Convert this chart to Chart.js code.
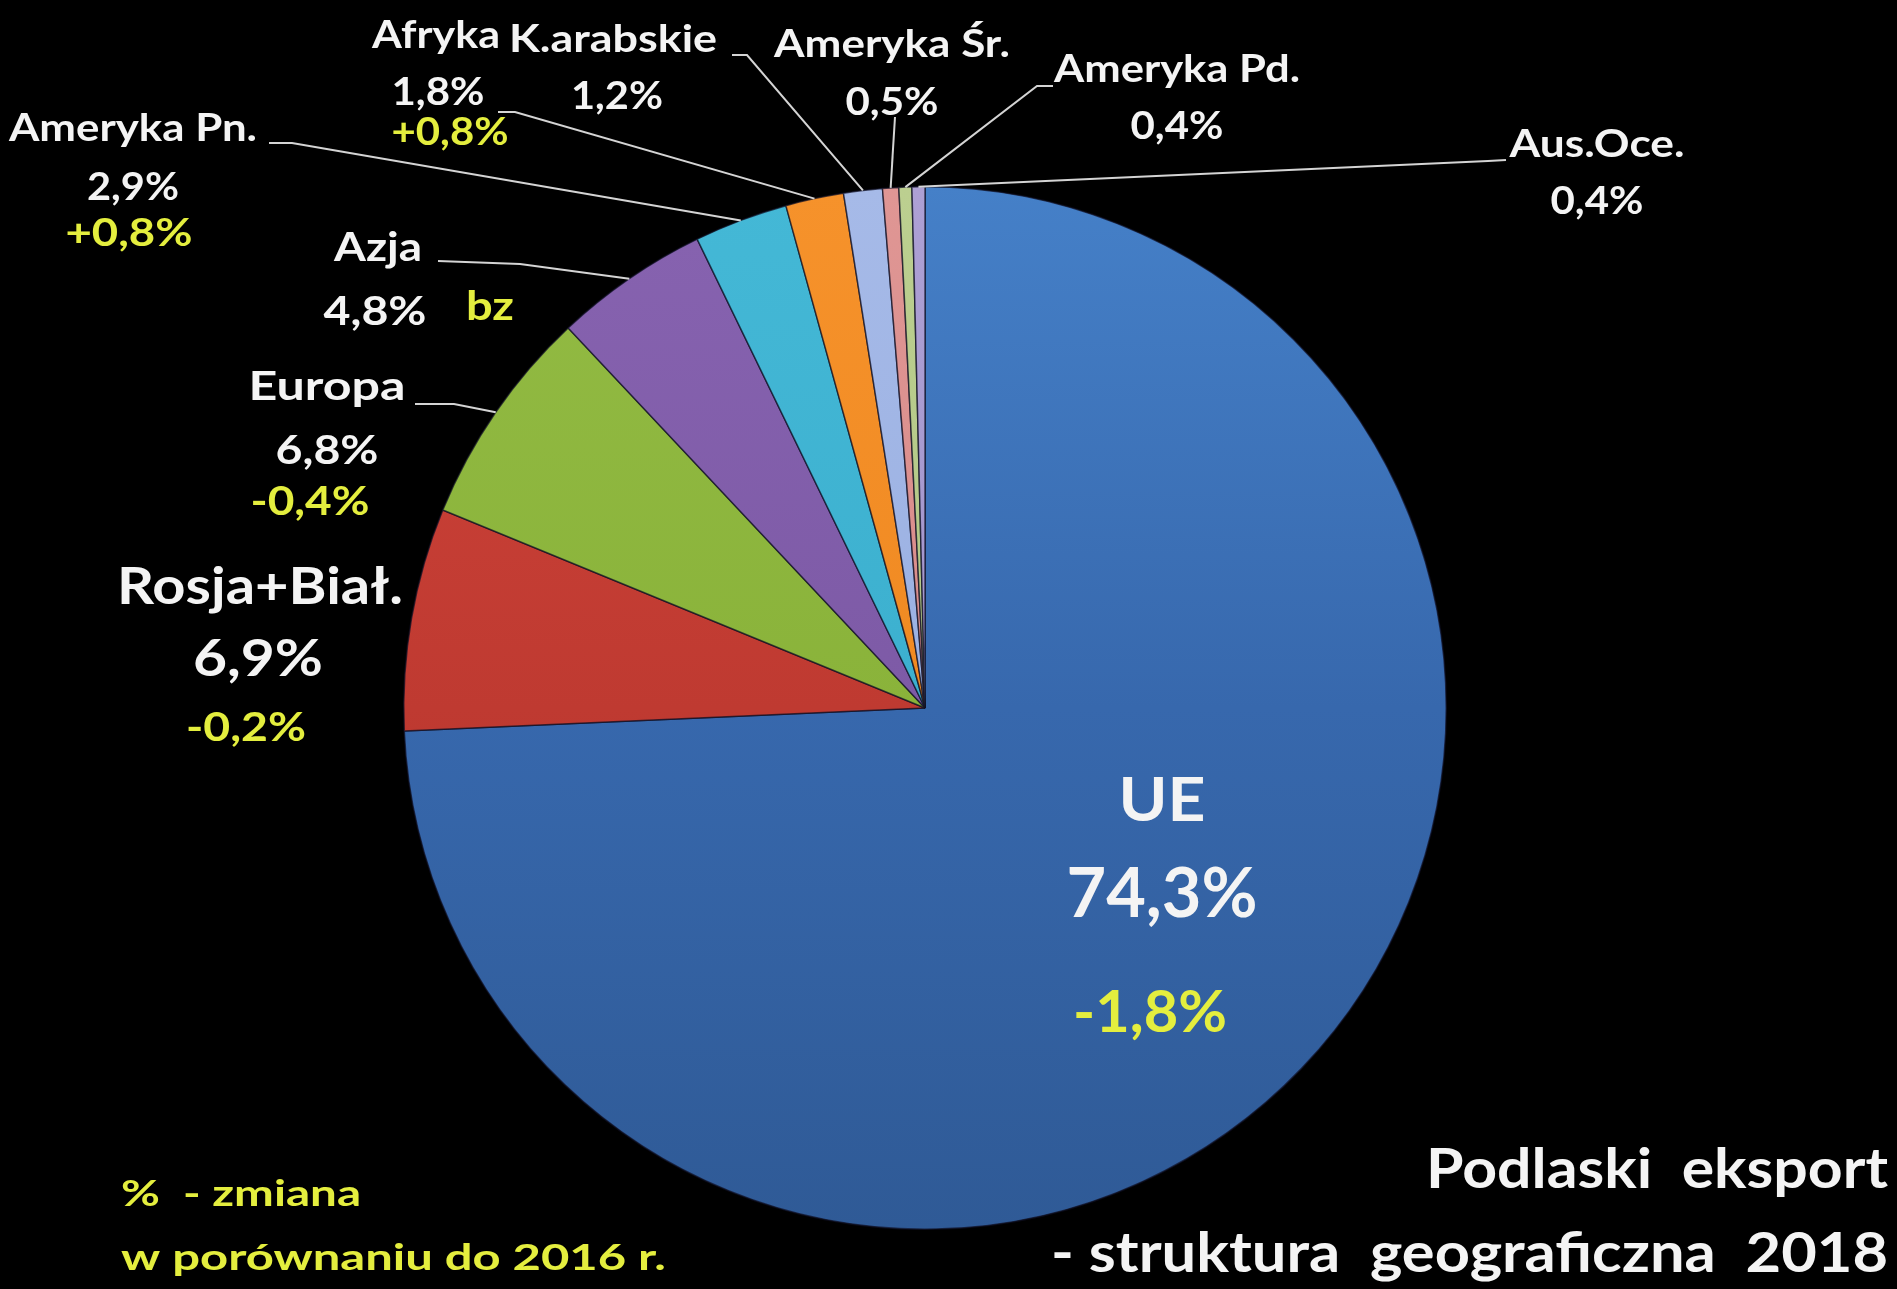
<!DOCTYPE html>
<html>
<head>
<meta charset="utf-8">
<title>Podlaski eksport - struktura geograficzna 2018</title>
<script src="https://cdn.jsdelivr.net/npm/chart.js@4.4.1/dist/chart.umd.min.js"></script>
<style>
  html, body { margin: 0; padding: 0; background: #000; }
  #wrap { width: 1897px; height: 1289px; }
</style>
</head>
<body>
<div id="wrap"><canvas id="pie" width="1897" height="1289"></canvas></div>
<script>
// data, clockwise from 12 o'clock
const regions = ["UE", "Rosja+Biał.", "Europa", "Azja", "Ameryka Pn.", "Afryka", "K.arabskie", "Ameryka Śr.", "Ameryka Pd.", "Aus.Oce."];
const shares = [74.3, 6.9, 6.8, 4.8, 2.9, 1.8, 1.2, 0.5, 0.4, 0.4];
const changes = ["-1,8%", "-0,2%", "-0,4%", "bz", "+0,8%", "+0,8%", null, null, null, null];

const noteLines = ["%  - zmiana", "w porównaniu do 2016 r."];
const titleLines = ["Podlaski  eksport", "- struktura  geograficzna  2018"];

// slice colours [top, middle, bottom]
const SLICE_COLORS = [
  ["#4580c8", "#3768ad", "#2f5a96"],
  ["#d0443a", "#bf3a31", "#a52f29"],
  ["#93bb44", "#8ab33a", "#7ca334"],
  ["#8763b0", "#7d5aa6", "#6f4f98"],
  ["#44b8d6", "#3cb0cf", "#2f9fbe"],
  ["#f6922b", "#f08a22", "#e57f18"],
  ["#a6bae8", "#9bb1e2", "#8ea6dc"],
  ["#df9694", "#d98c8a", "#cf8482"],
  ["#bccf90", "#b2c785", "#a7bd7a"],
  ["#ada0d4", "#a395cc", "#9688c2"],
];

const WHITE = "#f4f4f4";
const YELLOW = "#e4ee3e";

// label layout: [kind, x, y, fontPx, width]; leader = start points, end is the slice edge
const LABEL_LAYOUT = [
  { i: 0, lines: [["name", 1162, 801, 62, 87], ["value", 1162, 895, 68, 191], ["change", 1150, 1013, 58, 154]] },
  { i: 1, lines: [["name", 260, 587, 52, 286], ["value", 258, 659, 52, 130], ["change", 246, 728, 40, 120]] },
  { i: 2, lines: [["name", 327, 387, 40, 157], ["value", 327, 451, 40, 103], ["change", 310, 502, 40, 119]],
    leader: [[415, 404], [454, 404]] },
  { i: 3, lines: [["name", 378, 248, 40, 88], ["value", 375, 312, 40, 103], ["change", 490, 307, 40, 48]],
    leader: [[438, 261], [520, 264]] },
  { i: 4, lines: [["name", 133, 129, 38, 248], ["value", 133, 188, 38, 92], ["change", 129, 234, 38, 127]],
    leader: [[269, 143], [292, 143]] },
  { i: 5, lines: [["name", 436, 36, 38, 128], ["value", 438, 93, 38, 93], ["change", 450, 133, 38, 117]],
    leader: [[498, 112], [515, 112]] },
  { i: 6, lines: [["name", 613, 40, 38, 208], ["value", 617, 97, 38, 92]],
    leader: [[732, 55], [747, 55]] },
  { i: 7, lines: [["name", 892, 45, 38, 236], ["value", 892, 103, 38, 93]],
    leader: [[895, 117]] },
  { i: 8, lines: [["name", 1177, 70, 38, 246], ["value", 1177, 127, 38, 93]],
    leader: [[1053, 86], [1037, 86]] },
  { i: 9, lines: [["name", 1597, 145, 38, 175], ["value", 1597, 202, 38, 93]],
    leader: [[1506, 160], [1488, 161]] },
];

function pct(v) {
  return v.toFixed(1).replace(".", ",") + "%";
}

// draw text stretched to a given width
function fitText(ctx, text, x, y, w, align) {
  ctx.save();
  const m = ctx.measureText(text).width;
  ctx.translate(x, y);
  ctx.scale(w / m, 1);
  ctx.textAlign = align;
  ctx.fillText(text, 0, 0);
  ctx.restore();
}

function sliceFill(context) {
  const chart = context.chart;
  const area = chart.chartArea;
  const c = SLICE_COLORS[context.dataIndex];
  if (!area) return c[1];
  const g = chart.ctx.createLinearGradient(0, area.top, 0, area.bottom);
  g.addColorStop(0, c[0]);
  g.addColorStop(0.5, c[1]);
  g.addColorStop(1, c[2]);
  return g;
}

const labelPlugin = {
  id: "pieLabels",
  afterDatasetsDraw(chart) {
    const ctx = chart.ctx;
    const arcs = chart.getDatasetMeta(0).data;

    // leader lines
    ctx.save();
    ctx.strokeStyle = "rgba(235,235,235,0.9)";
    ctx.lineWidth = 2;
    LABEL_LAYOUT.forEach(l => {
      if (!l.leader) return;
      const a = arcs[l.i];
      const mid = (a.startAngle + a.endAngle) / 2;
      const ex = a.x + Math.cos(mid) * a.outerRadius;
      const ey = a.y + Math.sin(mid) * a.outerRadius;
      ctx.beginPath();
      ctx.moveTo(l.leader[0][0], l.leader[0][1]);
      for (let k = 1; k < l.leader.length; k++) ctx.lineTo(l.leader[k][0], l.leader[k][1]);
      ctx.lineTo(ex, ey);
      ctx.stroke();
    });
    ctx.restore();

    // label texts
    ctx.save();
    ctx.textBaseline = "middle";
    LABEL_LAYOUT.forEach(l => {
      l.lines.forEach(([kind, x, y, size, w]) => {
        let text;
        if (kind === "name") text = regions[l.i];
        else if (kind === "value") text = pct(shares[l.i]);
        else text = changes[l.i];
        if (!text) return;
        ctx.font = "bold " + size + "px Lato, 'Open Sans', sans-serif";
        ctx.fillStyle = kind === "change" ? YELLOW : WHITE;
        fitText(ctx, text, x, y, w, "center");
      });
    });

    // note bottom-left
    ctx.fillStyle = YELLOW;
    ctx.font = "bold 36px Lato, sans-serif";
    fitText(ctx, noteLines[0], 121, 1194, 240, "left");
    fitText(ctx, noteLines[1], 121, 1258, 545, "left");

    // title bottom-right
    ctx.fillStyle = WHITE;
    ctx.font = "bold 56px Lato, sans-serif";
    fitText(ctx, titleLines[0], 1888, 1170, 462, "right");
    fitText(ctx, titleLines[1], 1888, 1254, 837, "right");
    ctx.restore();
  }
};

new Chart(document.getElementById("pie"), {
  type: "pie",
  data: {
    labels: regions,
    datasets: [{
      data: shares,
      backgroundColor: sliceFill,
      borderColor: "rgba(15,15,35,0.7)",
      borderWidth: 1.5,
      hoverOffset: 0,
    }]
  },
  options: {
    responsive: false,
    animation: false,
    events: [],
    layout: { padding: { left: 403, right: 450, top: 186, bottom: 59 } },
    plugins: {
      legend: { display: false },
      tooltip: { enabled: false },
    },
  },
  plugins: [labelPlugin],
});
</script>
</body>
</html>
